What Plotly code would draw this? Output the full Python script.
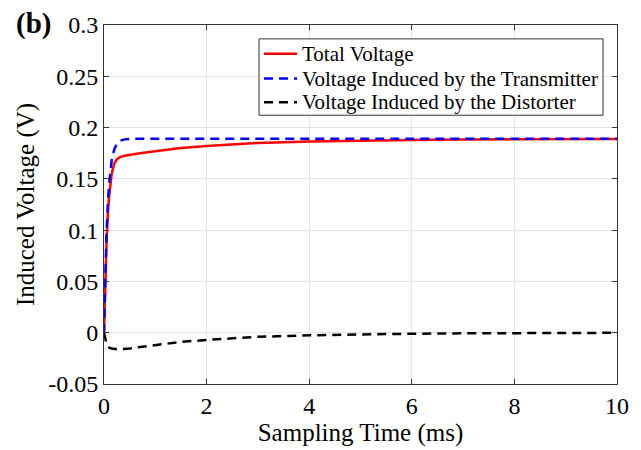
import plotly.graph_objects as go

# Sampling time (ms)
time_ms = [0, 0.02, 0.05, 0.08, 0.1, 0.15, 0.2, 0.25, 0.3, 0.4, 0.5, 0.7, 1.0,
           1.5, 2.0, 3.0, 4.0, 5.0, 6.0, 7.0, 8.0, 9.0, 10.0]

total_voltage = [0, 0.045, 0.09, 0.12, 0.133, 0.155, 0.165, 0.169, 0.171, 0.1725,
                 0.1735, 0.175, 0.177, 0.18, 0.182, 0.185, 0.1865, 0.1875, 0.188,
                 0.1884, 0.1886, 0.1888, 0.1889]

transmitter_voltage = [0, 0.05, 0.1, 0.13, 0.145, 0.168, 0.179, 0.184, 0.187, 0.1885,
                       0.189, 0.189, 0.189, 0.189, 0.189, 0.189, 0.189, 0.189, 0.189,
                       0.189, 0.189, 0.189, 0.189]

distorter_voltage = [0, -0.006, -0.011, -0.0135, -0.0145, -0.0155, -0.016, -0.016, -0.016,
                     -0.0158, -0.0155, -0.014, -0.012, -0.009, -0.007, -0.004, -0.0025,
                     -0.0015, -0.001, -0.0006, -0.0004, -0.0002, -0.0001]

series_names = ["Total Voltage",
                "Voltage Induced by the Transmitter",
                "Voltage Induced by the Distorter"]
series_colors = ["#ff0000", "#0000ff", "#000000"]
series_dashes = ["solid", "9px,6px", "9px,6px"]

x_ticks = [0, 2, 4, 6, 8, 10]
y_ticks = [-0.05, 0, 0.05, 0.1, 0.15, 0.2, 0.25, 0.3]
y_tick_labels = ["-0.05", "0", "0.05", "0.1", "0.15", "0.2", "0.25", "0.3"]

FONT = "Liberation Serif"
W, H = 641, 450
ML, MR, MT, MB = 104, 24, 24, 64
PW, PH = W - ML - MR, H - MT - MB


def px_x(px):
    return (px - ML) / PW


def px_y(py):
    return (H - MB - py) / PH


fig = go.Figure()
for vals, name, col, dash in zip([total_voltage, transmitter_voltage, distorter_voltage],
                                 series_names, series_colors, series_dashes):
    fig.add_trace(go.Scatter(x=time_ms, y=vals, mode="lines", name=name,
                             line=dict(color=col, width=2.5, dash=dash),
                             showlegend=False))

axis_common = dict(showline=True, linecolor="#333333", linewidth=1, mirror="allticks",
                   ticks="inside", ticklen=5, tickcolor="#333333",
                   showgrid=True, gridcolor="#e3e3e3", gridwidth=1, zeroline=False,
                   tickfont=dict(family=FONT, size=24, color="black"))

fig.update_xaxes(range=[0, 10], tickvals=x_ticks, ticktext=[str(v) for v in x_ticks],
                 title=dict(text="Sampling Time (ms)", font=dict(family=FONT, size=25, color="black"),
                            standoff=2),
                 **axis_common)
fig.update_yaxes(range=[-0.05, 0.3], tickvals=y_ticks, ticktext=y_tick_labels,
                 title=dict(text="Induced Voltage (V)", font=dict(family=FONT, size=25, color="black"),
                            standoff=6),
                 **axis_common)

# Legend drawn as a framed box (layout decoration)
shapes = [dict(type="rect", xref="paper", yref="paper",
               x0=px_x(259), x1=px_x(603), y0=px_y(115), y1=px_y(38),
               line=dict(color="#333333", width=1), fillcolor="white", layer="above")]
annotations = []
row_y = [53, 78, 102]
for ry, name, col, dash in zip(row_y, series_names, series_colors, series_dashes):
    shapes.append(dict(type="line", xref="paper", yref="paper",
                       x0=px_x(264), x1=px_x(297), y0=px_y(ry), y1=px_y(ry),
                       line=dict(color=col, width=2.5, dash=dash), layer="above"))
    annotations.append(dict(text=name, xref="paper", yref="paper",
                            x=px_x(300), y=px_y(ry), xanchor="left", yanchor="middle",
                            showarrow=False, font=dict(family=FONT, size=21, color="black")))

annotations.append(dict(text="<b>(b)</b>", x=-0.175, y=1.005, xref="paper", yref="paper",
                        xanchor="left", yanchor="middle", showarrow=False,
                        font=dict(family=FONT, size=29, color="black")))

fig.update_layout(
    width=W, height=H,
    margin=dict(l=ML, r=MR, t=MT, b=MB),
    paper_bgcolor="white", plot_bgcolor="white",
    font=dict(family=FONT, color="black"),
    showlegend=False,
    shapes=shapes,
    annotations=annotations,
)

fig.write_html("out.html")
